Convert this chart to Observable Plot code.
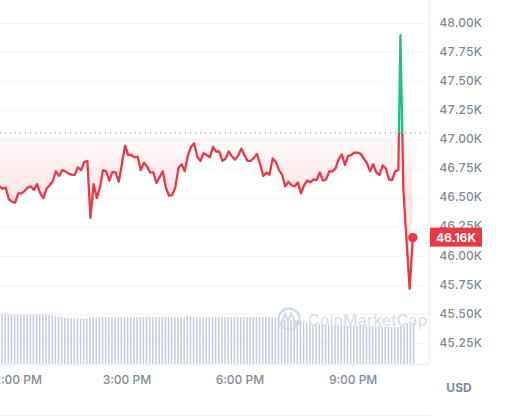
<!DOCTYPE html>
<html><head><meta charset="utf-8">
<script src="https://cdn.jsdelivr.net/npm/d3@7"></script>
<script src="https://cdn.jsdelivr.net/npm/@observablehq/plot@0.6"></script>
<style>html,body{margin:0;padding:0;background:#fff}svg{display:block}</style>
</head><body><div id="chart"></div>
<script>
// minutes after midnight, 5-minute candles
const barTimes = [697,702,707,712,717,722,727,732,737,742,747,752,757,762,767,772,777,782,787,792,797,802,807,812,817,822,827,832,837,842,847,852,857,862,867,872,877,882,887,892,897,902,907,912,917,922,927,932,937,942,947,952,957,962,967,972,977,982,987,992,997,1002,1007,1012,1017,1022,1027,1032,1037,1042,1047,1052,1057,1062,1067,1072,1077,1082,1087,1092,1097,1102,1107,1112,1117,1122,1127,1132,1137,1142,1147,1152,1157,1162,1167,1172,1177,1182,1187,1192,1197,1202,1207,1212,1217,1222,1227,1232,1237,1242,1247,1252,1257,1262,1267,1272,1277,1282,1287,1292,1297,1302,1307,1312,1317,1322,1327,1332,1337,1342,1347,1352,1357];
const priceTimes = [697,702,707,712,717,722,727,732,737,742,747,752,757,762,767,772,777,782,787,792,797,802,807,812,817,822,827,832,837,842,847,852,857,862,867,872,877,882,887,892,897,902,907,912,917,922,927,932,937,942,947,952,957,962,967,972,977,982,987,992,997,1002,1007,1012,1017,1022,1027,1032,1037,1042,1047,1052,1057,1062,1067,1072,1077,1082,1087,1092,1097,1102,1107,1112,1117,1122,1127,1132,1137,1142,1147,1152,1157,1162,1167,1172,1177,1182,1187,1192,1197,1202,1207,1212,1217,1222,1227,1232,1237,1242,1247,1252,1257,1262,1267,1272,1277,1282,1287,1292,1297,1302,1307,1312,1317,1322,1327,1332,1335.3,1340,1350,1355];
// price in thousands of USD
const prices = [46.60,46.58,46.59,46.49,46.47,46.46,46.54,46.54,46.56,46.59,46.60,46.57,46.62,46.54,46.50,46.58,46.61,46.645,46.73,46.69,46.74,46.73,46.71,46.70,46.70,46.765,46.74,46.81,46.82,46.33,46.62,46.50,46.59,46.74,46.73,46.65,46.725,46.72,46.64,46.79,46.95,46.87,46.87,46.85,46.855,46.74,46.805,46.77,46.72,46.72,46.63,46.68,46.73,46.59,46.52,46.525,46.59,46.76,46.79,46.73,46.865,46.94,46.97,46.855,46.82,46.885,46.87,46.85,46.94,46.90,46.90,46.82,46.84,46.90,46.86,46.83,46.865,46.925,46.87,46.82,46.82,46.845,46.88,46.79,46.69,46.72,46.70,46.84,46.81,46.74,46.70,46.60,46.64,46.61,46.60,46.635,46.54,46.61,46.65,46.635,46.66,46.655,46.72,46.65,46.66,46.73,46.73,46.755,46.835,46.875,46.785,46.86,46.87,46.89,46.89,46.88,46.84,46.80,46.73,46.79,46.72,46.70,46.78,46.755,46.66,46.655,46.73,46.74,47.90,46.565,45.72,46.16];
// volume in billions of USD
const volumes = [30.2,30.2,30.2,30.2,30.2,30.2,30.2,30.2,30.2,30.2,30.2,30.2,30.2,30.2,30.2,30.2,30.0,29.4,29.0,29.0,28.6,28.2,28.2,27.8,27.6,27.6,27.6,27.6,27.6,28.4,28.6,28.6,28.6,28.6,28.6,28.6,28.6,28.6,28.6,28.6,28.6,28.6,28.6,28.6,28.6,28.6,28.6,28.6,28.6,28.6,28.6,28.6,28.6,28.6,28.6,28.6,28.6,28.6,28.6,28.6,29.4,29.2,28.8,28.8,28.6,28.6,28.6,28.6,28.6,28.6,28.6,28.6,28.6,28.6,28.6,28.6,28.6,28.6,28.6,28.6,28.6,28.6,28.6,28.6,28.6,28.6,28.6,28.6,28.4,27.0,26.8,26.8,26.8,26.8,26.8,26.6,26.4,25.9,24.9,24.7,24.5,24.5,24.3,24.3,24.0,24.0,23.9,23.8,23.7,23.6,23.6,23.5,23.5,23.4,23.3,23.3,23.2,23.1,23.0,23.0,23.0,23.0,23.0,22.9,22.8,22.6,22.5,22.5,23.2,23.9,24.5,24.7,25.0];
const yTicks = [45.25,45.5,45.75,46,46.25,46.5,46.75,47,47.25,47.5,47.75,48];
const xTicks = [720,900,1080,1260];
const xLabels = ["12:00 PM","3:00 PM","6:00 PM","9:00 PM"];
const baseline = 47.06;
const lastPrice = 46.16;
const currency = "USD";
const watermark = "CoinMarketCap";

const priceRows = prices.map((p,i)=>({t:priceTimes[i],p}));
const volumeRows = volumes.map((v,i)=>({t:barTimes[i],v}));
const yMin = 45.0695, kPerBillion = 0.0141;
const RED="#ea3943", GREEN="#16c784", GREY="#808a9d", BORDER="#eff2f5";

function defs(index,{y},values,dims){
  const b=y(baseline)/dims.height, H=dims.height;
  const s=d3.create("svg:defs");
  const lg=s.append("linearGradient").attr("id","lineGrad").attr("gradientUnits","userSpaceOnUse").attr("x1",0).attr("x2",0).attr("y1",0).attr("y2",H);
  lg.append("stop").attr("offset",b).attr("stop-color",GREEN);
  lg.append("stop").attr("offset",b).attr("stop-color",RED);
  const ag=s.append("linearGradient").attr("id","areaGrad").attr("gradientUnits","userSpaceOnUse").attr("x1",0).attr("x2",0).attr("y1",0).attr("y2",H);
  [[y(47.6)/H,GREEN,0],[b,GREEN,.22],[b,RED,.01],[y(46.5)/H,RED,.14],[y(46.1)/H,RED,.07],[y(45.7)/H,RED,0]].forEach(([o,c,a])=>
    ag.append("stop").attr("offset",o).attr("stop-color",c).attr("stop-opacity",a));
  return s.node();
}
function mark(index,{y},values,dims){
  const g=d3.create("svg:g").attr("font-family","Inter").attr("text-anchor","start");
  const py=y(lastPrice), x0=dims.width-dims.marginRight+1;
  g.append("line").attr("x1",0).attr("x2",430).attr("y1",415.5).attr("y2",415.5).attr("stroke",BORDER);
  g.append("rect").attr("x",x0).attr("y",py-9.5).attr("width",52).attr("height",19).attr("fill",RED);
  g.append("text").attr("x",x0+26).attr("y",py+4.5).attr("text-anchor","middle").attr("fill","#fff").attr("font-size",12).attr("font-weight",700).text(lastPrice.toFixed(2)+"K");
  g.append("text").attr("x",459).attr("y",392).attr("text-anchor","middle").attr("fill",GREY).attr("font-size",12).attr("font-weight",700).text(currency);
  const w=g.append("g");
  w.append("circle").attr("cx",289).attr("cy",319).attr("r",10.5).attr("fill","none").attr("stroke","#d3dae6").attr("stroke-width",2.4);
  w.append("path").attr("d","M281 325 L285 314 L288 321 L291 314 L295 321 L297 325").attr("fill","none").attr("stroke","#d3dae6").attr("stroke-width",2.2);
  w.append("text").attr("x",308).attr("y",326).attr("fill","#dbe0e9").attr("font-size",16).attr("font-weight",500).text(watermark);
  return g.node();
}

const chart = Plot.plot({
  width:509,height:416,marginTop:0,marginLeft:0,marginRight:80,marginBottom:52,
  style:{fontFamily:"Inter",fontSize:"12px",background:"#fff",fontWeight:500},
  x:{domain:[698.8,1381.6],range:[0,429],axis:null},
  y:{domain:[yMin,48.198],range:[364,0],axis:null},
  marks:[
    defs,
    Plot.ruleY(yTicks,{stroke:"#f3f5f8",strokeWidth:1}),
    Plot.ruleX([1381.6],{stroke:BORDER,strokeWidth:2}),
    Plot.rectY(volumeRows,{x1:d=>d.t-1.25,x2:d=>d.t+1.25,y1:yMin,y2:d=>yMin+d.v*kPerBillion,fill:"#c3cde0",clip:true}),
    Plot.ruleY([yMin],{stroke:BORDER,strokeWidth:2}),
    Plot.ruleY([baseline],{stroke:"#888f9c",strokeWidth:1,strokeDasharray:"1,4"}),
    Plot.areaY(priceRows,{x:"t",y1:baseline,y2:"p",fill:"url(#areaGrad)",clip:true}),
    Plot.line(priceRows,{x:"t",y:"p",stroke:"url(#lineGrad)",strokeWidth:2.3,strokeLinejoin:"round",clip:true}),
    Plot.dot([{t:1355,p:lastPrice}],{x:"t",y:"p",r:4.7,fill:RED,stroke:"none"}),
    Plot.axisX(xTicks,{anchor:"bottom",color:GREY,stroke:"#e3e7ee",tickSize:3,tickPadding:8,label:null,tickFormat:d=>xLabels[xTicks.indexOf(d)]}),
    Plot.axisY(yTicks,{anchor:"right",color:GREY,tickSize:0,tickPadding:10,dy:-0.5,label:null,tickFormat:d=>d.toFixed(2)+"K"}),
    mark
  ]
});
document.getElementById("chart").append(chart);
</script></body></html>
